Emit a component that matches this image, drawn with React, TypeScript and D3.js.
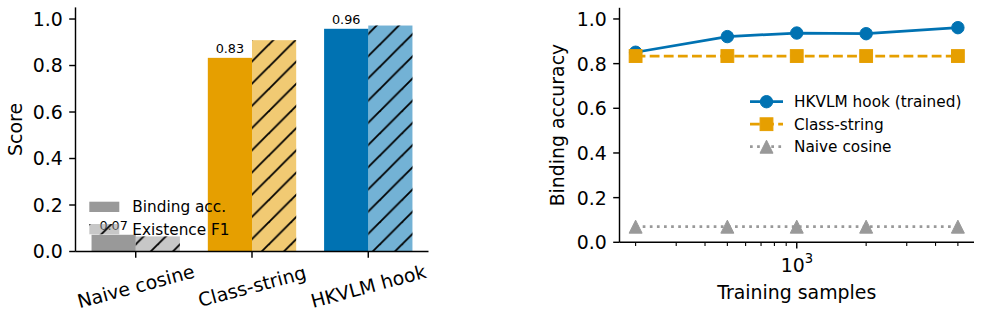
import React from "react";
import * as d3 from "d3";

const methods = ["Naive cosine", "Class-string", "HKVLM hook"];
const bindingAcc = [0.072, 0.833, 0.958];
const existenceF1 = [0.065, 0.909, 0.972];
const barColors = ["#999999", "#E69F00", "#0072B2"];
const barLabels = ["0.07", "0.83", "0.96"];
const yTicks = [0, 0.2, 0.4, 0.6, 0.8, 1.0];

const samples = [200, 500, 1000, 2000, 5000];
const hookAcc = [0.851, 0.921, 0.937, 0.934, 0.961];
const classAcc = [0.834, 0.834, 0.834, 0.834, 0.834];
const naiveAcc = [0.07, 0.07, 0.07, 0.07, 0.07];
const minorTicks = [200, 300, 400, 500, 600, 700, 800, 900, 2000, 3000, 4000, 5000];
const seriesNames = ["HKVLM hook (trained)", "Class-string", "Naive cosine"];
const lineColors = ["#0072B2", "#E69F00", "#999999"];

const FONT = "DejaVu Sans, sans-serif";
const FS = 18.9;
const LFS = 15.3;

export default function App() {
  // Left panel
  const L = { x0: 75.5, x1: 428.5, yTop: 7.4, yBot: 251.5 };
  const xL = d3.scaleLinear().domain([-0.518, 2.518]).range([L.x0, L.x1]);
  const yL = d3.scaleLinear().domain([0, 1.05]).range([L.yBot, L.yTop]);
  const barW = xL(0.38) - xL(0);

  // Right panel
  const R = { x0: 619.5, x1: 974, yTop: 7.8, yBot: 242.3 };
  const lo = Math.log10(200), hi = Math.log10(5000), m = (hi - lo) * 0.05;
  const xR = d3.scaleLog().domain([Math.pow(10, lo - m), Math.pow(10, hi + m)]).range([R.x0, R.x1]);
  const yR = d3.scaleLinear().domain([0, 1.05]).range([R.yBot, R.yTop]);
  const line = d3.line<[number, number]>().x((d) => xR(d[0])).y((d) => yR(d[1]));
  const seriesVals = [hookAcc, classAcc, naiveAcc];
  const dashes = [undefined, "9.8 4.3", "2.7 4.4"];

  const marker = (i: number, cx: number, cy: number, key: string) => {
    const c = lineColors[i];
    if (i === 0) return <circle key={key} cx={cx} cy={cy} r={6.2} fill={c} stroke={c} strokeWidth={1} />;
    if (i === 1) return <rect key={key} x={cx - 6.4} y={cy - 6.4} width={12.8} height={12.8} fill={c} stroke={c} strokeWidth={1} />;
    const h = 6.5;
    return <path key={key} d={`M${cx},${cy - h}L${cx - h},${cy + h}L${cx + h},${cy + h}Z`} fill={c} stroke={c} strokeWidth={1} />;
  };

  return (
    <svg width={981} height={311} style={{ position: "absolute", left: 0, top: 0, background: "#fff" }} fontFamily={FONT}>
      <defs>
        <pattern id="hatch" patternUnits="userSpaceOnUse" width={22.2} height={22.2} x={2.6} y={0}>
          <path d="M-2,2.2 L2.2,-2 M0,22.2 L22.2,0 M20,24.4 L24.4,20" stroke="#000" strokeWidth={1.8} />
        </pattern>
      </defs>
      <rect width={981} height={311} fill="#fff" />

      {/* ===== Left bar chart ===== */}
      {methods.map((name, i) => (
        <g key={name}>
          <rect x={xL(i) - barW} y={yL(bindingAcc[i])} width={barW} height={yL(0) - yL(bindingAcc[i])} fill={barColors[i]} />
          <rect x={xL(i)} y={yL(existenceF1[i])} width={barW} height={yL(0) - yL(existenceF1[i])} fill={barColors[i]} fillOpacity={0.55} />
          <rect x={xL(i)} y={yL(existenceF1[i])} width={barW} height={yL(0) - yL(existenceF1[i])} fill="url(#hatch)" />
          <text x={xL(i) - barW / 2} y={yL(bindingAcc[i]) - 4.5} fontSize={12.8} textAnchor="middle" fill="#000">{barLabels[i]}</text>
        </g>
      ))}
      {/* left legend */}
      <rect x={89.3} y={201.7} width={30} height={10.3} fill="#999999" />
      <rect x={89.3} y={224} width={30} height={10.3} fill="#999999" fillOpacity={0.55} />
      <rect x={89.3} y={224} width={30} height={10.3} fill="url(#hatch)" />
      <text x={132.3} y={212.3} fontSize={LFS} fill="#000">Binding acc.</text>
      <text x={132.3} y={234.7} fontSize={LFS} fill="#000">Existence F1</text>

      {/* left axes */}
      <line x1={L.x0} x2={L.x0} y1={L.yTop} y2={L.yBot} stroke="#000" strokeWidth={1.44} />
      <line x1={L.x0} x2={L.x1} y1={L.yBot} y2={L.yBot} stroke="#000" strokeWidth={1.44} />
      {yTicks.map((t) => (
        <g key={t}>
          <line x1={L.x0 - 6.3} x2={L.x0} y1={yL(t)} y2={yL(t)} stroke="#000" strokeWidth={1.44} />
          <text x={L.x0 - 12.8} y={yL(t) + 6.9} fontSize={FS} textAnchor="end" fill="#000">{d3.format(".1f")(t)}</text>
        </g>
      ))}
      {methods.map((name, i) => (
        <g key={"xt" + name}>
          <line x1={xL(i)} x2={xL(i)} y1={L.yBot} y2={L.yBot + 6.3} stroke="#000" strokeWidth={1.44} />
          <text transform={`translate(${xL(i)},${286}) rotate(-15)`} fontSize={FS} textAnchor="middle" dominantBaseline="central" fill="#000">{name}</text>
        </g>
      ))}
      <text transform={`translate(21.5,${(L.yTop + L.yBot) / 2}) rotate(-90)`} fontSize={FS} textAnchor="middle" fill="#000">Score</text>

      {/* ===== Right line chart ===== */}
      {seriesVals.map((vals, i) => (
        <g key={"s" + i}>
          <path d={line(samples.map((s, j) => [s, vals[j]]) as [number, number][]) || ""} fill="none" stroke={lineColors[i]} strokeWidth={2.7} strokeDasharray={dashes[i]} />
          {samples.map((s, j) => marker(i, xR(s), yR(vals[j]), `m${i}-${j}`))}
        </g>
      ))}
      {/* right legend */}
      {seriesNames.map((name, i) => {
        const cy = 101.7 + i * 22.5;
        return (
          <g key={name}>
            <line x1={750} x2={783} y1={cy} y2={cy} stroke={lineColors[i]} strokeWidth={2.7} strokeDasharray={dashes[i]} />
            {marker(i, 766.5, cy, "lm" + i)}
            <text x={794} y={cy + 5.5} fontSize={LFS} fill="#000">{name}</text>
          </g>
        );
      })}

      {/* right axes */}
      <line x1={R.x0} x2={R.x0} y1={R.yTop} y2={R.yBot} stroke="#000" strokeWidth={1.44} />
      <line x1={R.x0} x2={R.x1} y1={R.yBot} y2={R.yBot} stroke="#000" strokeWidth={1.44} />
      {yTicks.map((t) => (
        <g key={"r" + t}>
          <line x1={R.x0 - 6.3} x2={R.x0} y1={yR(t)} y2={yR(t)} stroke="#000" strokeWidth={1.44} />
          <text x={R.x0 - 12.8} y={yR(t) + 6.9} fontSize={FS} textAnchor="end" fill="#000">{d3.format(".1f")(t)}</text>
        </g>
      ))}
      {minorTicks.map((t) => (
        <line key={"mn" + t} x1={xR(t)} x2={xR(t)} y1={R.yBot} y2={R.yBot + 3.6} stroke="#000" strokeWidth={1.1} />
      ))}
      <line x1={xR(1000)} x2={xR(1000)} y1={R.yBot} y2={R.yBot + 6.3} stroke="#000" strokeWidth={1.44} />
      <text x={xR(1000) - 16} y={271.5} fontSize={FS} fill="#000">
        10<tspan fontSize={13.2} dy={-8.5}>3</tspan>
      </text>
      <text x={(R.x0 + R.x1) / 2} y={298.5} fontSize={FS} textAnchor="middle" fill="#000">Training samples</text>
      <text transform={`translate(563.5,${(R.yTop + R.yBot) / 2}) rotate(-90)`} fontSize={FS} textAnchor="middle" fill="#000">Binding accuracy</text>
    </svg>
  );
}
